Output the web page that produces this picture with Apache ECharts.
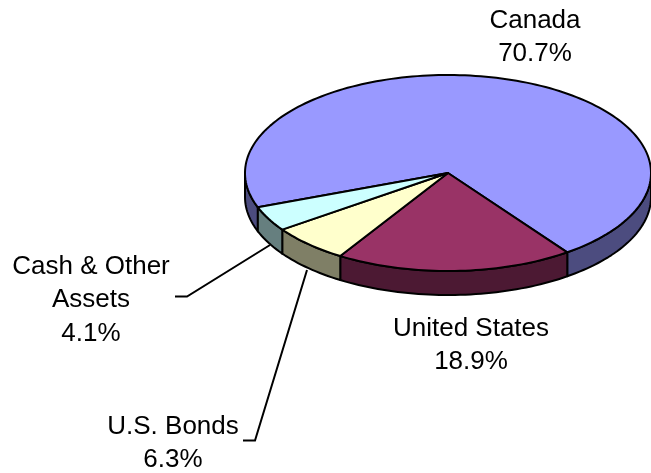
<!DOCTYPE html>
<html>
<head>
<meta charset="utf-8">
<title>Pie</title>
<style>
html, body { margin: 0; padding: 0; background: #fff; }
#main { width: 651px; height: 473px; }
</style>
<script src="https://cdn.jsdelivr.net/npm/echarts@6/dist/echarts.min.js"></script>
</head>
<body>
<div id="main"></div>
<script>
var categories = ['Canada', 'United States', 'U.S. Bonds', 'Cash & Other\nAssets'];
var values = [70.7, 18.9, 6.3, 4.1];
var topColors = ['#9999ff', '#993366', '#ffffcc', '#ccffff'];
var sideColors = ['#4c4c7f', '#4c1933', '#7f7f66', '#667f7f'];

// pie geometry, the tilted ellipse
var cx = 448, cy = 173, rx = 203, ry = 98, depth = 24;
var firstAngle = 249.5;
var fontSize = 26, lineH = 33.5;

var total = values.reduce(function (a, b) { return a + b; }, 0);

function sliceRange(idx) {
    var start = firstAngle;
    for (var i = 0; i < idx; i++) start += values[i] / total * 360;
    return [start, start + values[idx] / total * 360];
}

// angle is clockwise from the top
function rimPoint(deg, dy) {
    var a = deg * Math.PI / 180;
    return [cx + rx * Math.sin(a), cy - ry * Math.cos(a) + (dy || 0)];
}

function arcPoints(from, to, dy) {
    var pts = [];
    var n = Math.max(2, Math.ceil((to - from) / 1.5));
    for (var i = 0; i <= n; i++) pts.push(rimPoint(from + (to - from) * i / n, dy));
    return pts;
}

var edgeStyle = { stroke: '#000', lineWidth: 2, lineJoin: 'round' };

function wall(from, to, color) {
    var front = arcPoints(from, to, 0);
    var back = arcPoints(from, to, depth).reverse();
    return {
        type: 'polygon',
        shape: { points: front.concat(back) },
        style: Object.assign({ fill: color }, edgeStyle)
    };
}

// side walls, only the part of the rim facing the viewer (90 to 270 degrees)
function renderSide(params) {
    var r = sliceRange(params.dataIndex);
    var kids = [];
    [[90, 270], [450, 630]].forEach(function (front) {
        var a = Math.max(r[0], front[0]), b = Math.min(r[1], front[1]);
        if (b > a) kids.push(wall(a, b, sideColors[params.dataIndex]));
    });
    return { type: 'group', children: kids };
}

function renderTop(params) {
    var r = sliceRange(params.dataIndex);
    return {
        type: 'polygon',
        shape: { points: [[cx, cy]].concat(arcPoints(r[0], r[1], 0)) },
        style: Object.assign({ fill: topColors[params.dataIndex] }, edgeStyle)
    };
}

function labelText(i) {
    return categories[i] + '\n' + values[i].toFixed(1) + '%';
}

function label(i, x, y) {
    return {
        type: 'text',
        x: x,
        y: y,
        style: {
            text: labelText(i),
            fill: '#000',
            font: fontSize + 'px "Liberation Sans", Arial, sans-serif',
            lineHeight: lineH,
            align: 'center',
            verticalAlign: 'top'
        }
    };
}

function leader(points) {
    return {
        type: 'polyline',
        shape: { points: points },
        style: { stroke: '#000', lineWidth: 2, fill: null }
    };
}

var myChart = echarts.init(document.getElementById('main'), null, { renderer: 'canvas' });
myChart.setOption({
    animation: false,
    backgroundColor: '#fff',
    series: [
        { type: 'custom', coordinateSystem: 'none', silent: true, z: 1, data: values, renderItem: renderSide },
        { type: 'custom', coordinateSystem: 'none', silent: true, z: 2, data: values, renderItem: renderTop }
    ],
    graphic: [
        label(0, 535, 4),
        label(1, 471, 312),
        label(2, 173, 410),
        label(3, 91, 250),
        leader([[270, 245], [187, 296.5], [175, 296.5]]),
        leader([[307, 270], [255, 440.5], [243, 440.5]])
    ]
});
</script>
</body>
</html>
